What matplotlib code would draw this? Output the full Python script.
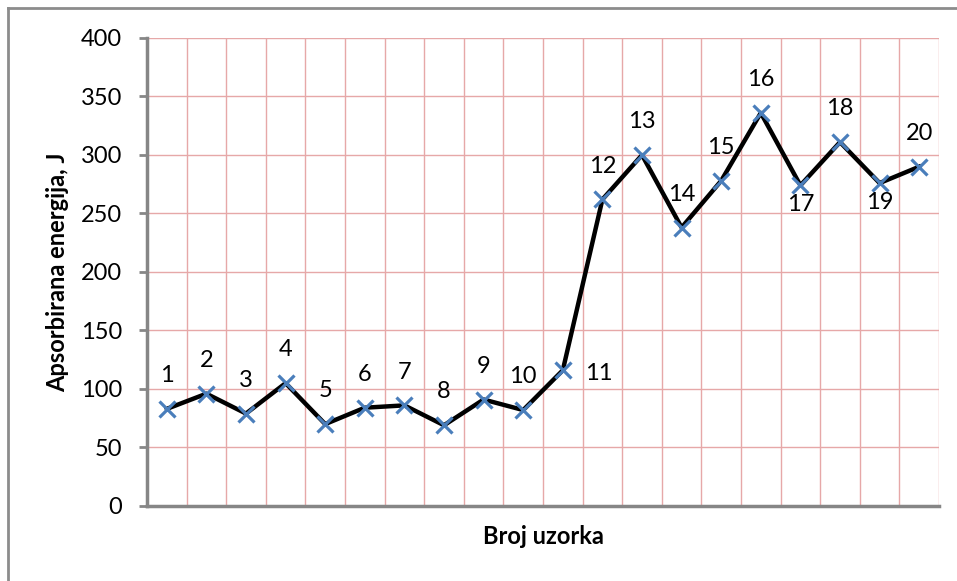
import matplotlib.pyplot as plt
from matplotlib.lines import Line2D

# broj uzorka i apsorbirana energija (J)
uzorci = list(range(1, 21))
energija = [83, 96, 79, 105, 70, 84, 86, 69, 91, 82,
            116, 262, 300, 238, 278, 336, 274, 311, 276, 290]
# gdje stoji oznaka uzorka u odnosu na tocku
polozaj = ['gore'] * 10 + ['desno'] + ['gore'] * 5 + ['dolje', 'gore', 'dolje', 'gore']

plt.rcParams['font.family'] = ['Lato', 'DejaVu Sans']

fig = plt.figure(figsize=(9.57, 5.81), dpi=100)
ax = fig.add_axes([0.1536, 0.1291, 0.8276, 0.8055])

ax.plot(uzorci, energija, color='black', linewidth=3.2, zorder=3,
        marker='x', markersize=12, markeredgewidth=2.3,
        markeredgecolor='#4a7ebb', markerfacecolor='#4a7ebb')

for x, y, p in zip(uzorci, energija, polozaj):
    if p == 'gore':
        ax.annotate(str(x), (x, y), xytext=(0, 24), textcoords='offset points',
                    ha='center', va='center', fontsize=17)
    elif p == 'desno':
        ax.annotate(str(x), (x, y), xytext=(26, -2), textcoords='offset points',
                    ha='center', va='center', fontsize=17)
    else:
        ax.annotate(str(x), (x, y), xytext=(0, -14), textcoords='offset points',
                    ha='center', va='center', fontsize=17)

ax.set_xlim(0.5, 20.5)
ax.set_ylim(0, 400)
ax.set_yticks(range(0, 401, 50))
ax.set_xticks([i + 0.5 for i in range(0, 21)])
ax.set_xticklabels([])
ax.tick_params(axis='x', length=0)
ax.tick_params(axis='y', length=6, width=2, color='#868686',
               labelsize=17, pad=12)

ax.grid(True, color='#e6a8a8', linewidth=1)
ax.set_axisbelow(True)

for s in ['top', 'right']:
    ax.spines[s].set_visible(False)
for s in ['left', 'bottom']:
    ax.spines[s].set_color('#868686')
    ax.spines[s].set_linewidth(2.5)
    ax.spines[s].set_zorder(4)

ax.set_ylabel('Apsorbirana energija, J', fontsize=17, fontweight='bold', labelpad=8)
ax.set_xlabel('Broj uzorka', fontsize=17, fontweight='bold', labelpad=10)

# okvir grafikona
fig.add_artist(Line2D([8 / 957, 1], [1 - 8 / 581, 1 - 8 / 581],
                      color='#8c8c8c', linewidth=2))
fig.add_artist(Line2D([8 / 957, 8 / 957], [0, 1 - 8 / 581],
                      color='#8c8c8c', linewidth=2))

plt.savefig('out.png', dpi=100)
plt.close('all')
